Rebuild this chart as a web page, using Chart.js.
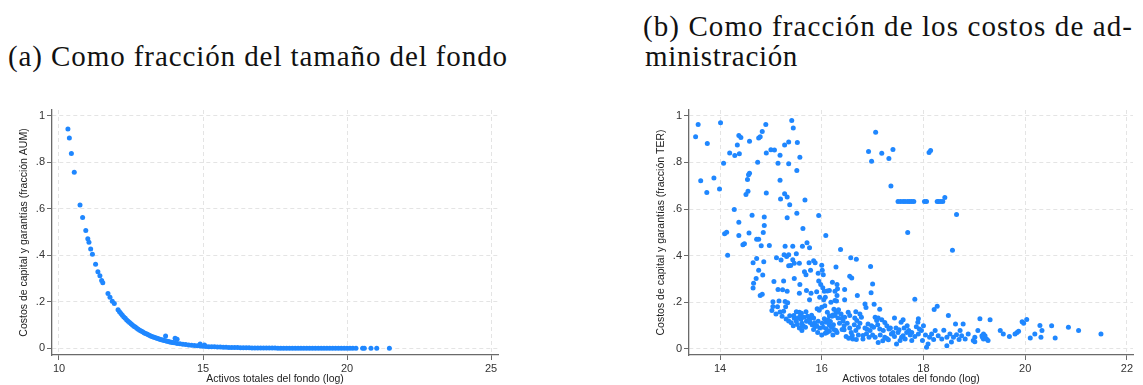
<!DOCTYPE html>
<html lang="es">
<head>
<meta charset="utf-8">
<script src="https://cdn.jsdelivr.net/npm/chart.js@4.4.1/dist/chart.umd.min.js"></script>
<style>
  html, body { margin: 0; padding: 0; background: #fff; }
  body { width: 1143px; height: 385px; position: relative; overflow: hidden; }
  .cap { position: absolute; font-family: "Liberation Serif", "DejaVu Serif", serif; font-size: 29px; color: #111; white-space: nowrap; line-height: 31px; }
  .box { position: absolute; }
</style>
</head>
<body>
<div class="cap" id="capA" style="left:8px; top:41px;">(a) Como fracción del tamaño del fondo</div>
<div class="cap" id="capB1" style="left:643px; top:11px;">(b) Como fracción de los costos de ad-</div>
<div class="cap" id="capB2" style="left:645px; top:41px;">ministración</div>
<div class="box" style="left:0; top:90px;"><canvas id="chartA" width="515" height="295"></canvas></div>
<div class="box" style="left:630px; top:90px;"><canvas id="chartB" width="513" height="295"></canvas></div>

<script>
// (a) costos como fracción de AUM vs log activos
const aumPoints = [
  [10.31,.943],[10.36,.905],[10.43,.838],[10.53,.757],[10.73,.616],[10.82,.562],[10.93,.507],
  [11.00,.471],[11.04,.456],[11.10,.427],[11.16,.404],[11.27,.361],[11.35,.329],[11.42,.312],
  [11.48,.291],[11.52,.282],[11.70,.236],[11.77,.219],[11.85,.202],[11.92,.193],[12.05,.166],
  [12.10,.157],[12.15,.149],[12.20,.142],[12.25,.135],[12.30,.129],[12.35,.122],[12.40,.116],
  [12.45,.111],[12.50,.105],[12.55,.100],[12.60,.095],[12.65,.091],[12.70,.086],[12.75,.082],
  [12.80,.078],[12.85,.074],[12.90,.071],[12.95,.067],[13.00,.064],[13.05,.061],[13.10,.058],
  [13.15,.055],[13.20,.052],[13.25,.050],[13.30,.047],[13.35,.045],[13.40,.043],[13.45,.041],
  [13.50,.039],[13.55,.037],[13.60,.035],[13.65,.033],[13.70,.032],[13.75,.030],[13.80,.029],
  [13.85,.027],[13.90,.026],[13.95,.025],[14.00,.024],[14.10,.021],[14.20,.019],[14.30,.017],
  [14.40,.016],[14.50,.014],[14.60,.013],[14.70,.012],[14.80,.011],[14.90,.010],[15.00,.009],
  [15.10,.008],[15.20,.007],[15.30,.006],[15.40,.006],[15.50,.005],[15.60,.005],[15.70,.004],
  [15.80,.004],[15.90,.003],[16.00,.003],[16.10,.003],[16.20,.003],[16.30,.002],[16.40,.002],
  [16.50,.002],[16.60,.002],[16.70,.001],[16.80,.001],[16.90,.001],[17.00,.001],[17.10,.001],
  [17.20,.001],[17.30,.001],[17.40,.001],[17.50,.001],[17.60,0],[17.70,0],[17.80,0],[17.90,0],
  [18.00,0],[18.10,0],[18.20,0],[18.30,0],[18.40,0],[18.50,0],[18.60,0],[18.70,0],[18.80,0],
  [18.90,0],[19.00,0],[19.10,0],[19.20,0],[19.30,0],[19.40,0],[19.50,0],[19.60,0],[19.70,0],
  [19.80,0],[19.90,0],[20.00,0],[20.10,0],[20.20,0],[20.31,0],
  [13.70,.053],[14.03,.043],[14.10,.039],[14.90,.018],[15.05,.014],
  [20.54,0],[20.60,0],[20.83,0],[21.03,0],[21.47,0]
];

// (b) costos como fracción del TER vs log activos
const terPoints = [
  [13.57,.963],[14.01,.970],[13.52,.910],[13.75,.881],[14.37,.916],[14.41,.907],[14.34,.875],
  [14.58,.891],[14.19,.841],[14.29,.830],[14.38,.837],[14.07,.797],[14.90,.963],[14.83,.933],
  [14.76,.905],[14.79,.910],[14.74,.801],[14.91,.841],[15.00,.855],[15.07,.853],[15.18,.831],
  [15.14,.797],[15.27,.875],[15.35,.888],[15.41,.980],[15.44,.948],[15.52,.886],[15.57,.822],
  [15.35,.794],[15.51,.765],[13.62,.721],[13.88,.733],[13.74,.671],[13.99,.686],[14.58,.754],
  [14.56,.747],[14.54,.727],[14.51,.663],[14.55,.676],[14.91,.669],[15.18,.724],[15.19,.643],
  [15.27,.666],[15.32,.652],[15.37,.619],[15.67,.639],[14.28,.598],[14.63,.573],[14.87,.566],
  [14.37,.543],[14.87,.529],[15.32,.563],[15.51,.582],[15.94,.572],[15.63,.517],[16.08,.487],
  [14.09,.494],[14.13,.501],[14.37,.487],[14.57,.497],[14.85,.499],[14.72,.471],[14.76,.471],
  [14.45,.447],[14.48,.451],[14.81,.443],[14.97,.444],[14.15,.402],[15.28,.441],[15.43,.441],
  [15.62,.441],[15.71,.456],[15.76,.434],[15.50,.408],[15.26,.404],[15.31,.397],[15.35,.404],
  [15.11,.391],[15.20,.381],[14.72,.388],[14.65,.370],[14.86,.374],[15.43,.383],[15.46,.368],
  [15.56,.368],[15.35,.357],[15.39,.358],[15.75,.370],[15.84,.378],[15.87,.370],[16.00,.359],
  [16.28,.352],[15.66,.331],[15.69,.318],[15.78,.338],[16.01,.338],[16.03,.318],[15.93,.325],
  [14.76,.338],[14.84,.317],[14.71,.302],[15.46,.302],[15.06,.289],[15.25,.291],[14.66,.282],
  [14.65,.261],[15.57,.276],[15.94,.291],[15.98,.276],[16.21,.286],[16.30,.276],[15.14,.255],
  [15.23,.254],[15.32,.248],[15.70,.251],[15.79,.239],[15.90,.245],[16.02,.262],[16.05,.248],
  [16.11,.249],[16.15,.251],[14.79,.229],[14.83,.235],[15.56,.239],[16.26,.248],[16.30,.229],
  [15.76,.211],[15.04,.202],[15.16,.206],[15.28,.203],[15.33,.198],[15.96,.222],[16.07,.222],
  [16.04,.211],[16.18,.200],[16.26,.208],[15.04,.182],[15.13,.181],[15.29,.181],[15.25,.162],
  [15.37,.142],[15.45,.143],[15.50,.159],[15.56,.157],[15.60,.153],[15.69,.159],[15.46,.132],
  [15.53,.133],[15.50,.119],[15.59,.127],[15.65,.136],[15.77,.130],[15.84,.133],[15.91,.172],
  [15.95,.166],[16.00,.179],[16.06,.185],[16.11,.157],[16.15,.142],[16.20,.140],[16.22,.146],
  [16.24,.170],[16.28,.160],[16.31,.157],[16.33,.168],[15.93,.119],[16.01,.110],[16.09,.114],
  [16.15,.103],[16.23,.104],[16.19,.093],[16.07,.067],[16.10,.071],[16.15,.076],[16.09,.087],
  [15.84,.083],[15.88,.096],[15.81,.104],[15.77,.113],[15.61,.110],[15.64,.097],[15.70,.119],
  [15.74,.123],[16.24,.083],[15.61,.079],[15.68,.093],[15.92,.070],[16.00,.060],
  [15.02,.165],[15.10,.150],[15.18,.158],[15.22,.140],[15.30,.128],[15.35,.120],[15.40,.112],
  [15.44,.100],[15.52,.105],[15.56,.090],[15.62,.098],[15.58,.142],[15.72,.140],[15.80,.145],
  [15.86,.112],[15.90,.100],[15.96,.090],[16.03,.093],[16.05,.130],[16.12,.125],[16.17,.118],
  [16.22,.060],[16.30,.070],[16.35,.110],[16.42,.120],[16.50,.110],[16.55,.090],[16.58,.070],
  [17.06,.930],[16.92,.847],[17.18,.840],[17.40,.856],[16.98,.805],[17.32,.817],[18.11,.843],
  [18.14,.851],[17.36,.699],[17.50,.633],[17.55,.633],[17.60,.633],[17.64,.633],[17.69,.633],
  [17.73,.633],[17.77,.633],[17.81,.633],[18.02,.633],[18.06,.633],[18.27,.633],[18.30,.633],
  [18.34,.633],[18.38,.633],[18.42,.650],[18.65,.577],[17.69,.500],
  [16.37,.427],[18.57,.423],[16.57,.391],[16.68,.385],[16.96,.354],[16.55,.312],[16.59,.304],
  [17.00,.279],[16.97,.241],[16.31,.258],[16.45,.255],[16.70,.229],[16.29,.206],[16.45,.211],
  [17.83,.213],[16.85,.193],[16.87,.178],[17.03,.192],[17.14,.170],[18.21,.169],[18.27,.183],
  [16.38,.150],[16.52,.157],[16.55,.143],[16.67,.160],[16.75,.150],[16.78,.136],[16.65,.133],
  [16.69,.122],[16.64,.104],[16.72,.093],[16.67,.079],[16.26,.143],[16.32,.133],[16.40,.132],
  [16.45,.136],[16.44,.100],[16.44,.082],[16.40,.083],[16.28,.079],[16.48,.053],[16.53,.046],
  [16.60,.058],[16.61,.043],[16.68,.040],[16.81,.043],[16.81,.058],[16.91,.107],[16.98,.100],
  [16.89,.084],[16.95,.079],[17.02,.093],[17.05,.136],[17.08,.122],[17.11,.133],[17.18,.125],
  [17.10,.104],[17.14,.086],[17.21,.079],[17.28,.100],[17.24,.113],[17.32,.086],[17.37,.064],
  [17.43,.053],[17.50,.071],[17.57,.050],[17.11,.028],[17.24,.050],[17.31,.039],[17.47,.021],
  [17.54,.036],[17.60,.057],[17.67,.071],[17.64,.043],[17.77,.036],[17.83,.053],[17.90,.064],
  [17.96,.079],[17.98,.036],[18.09,.021],[18.06,.007],[18.16,.064],[18.23,.079],[18.29,.057],
  [18.36,.043],[18.46,.050],[18.52,.064],[18.59,.050],[18.65,.061],[18.72,.079],[18.75,.057],
  [18.82,.043],[18.88,.064],[18.98,.036],[19.01,.050],[19.15,.057],[19.18,.043],[19.11,.129],
  [18.78,.107],[18.63,.107],[18.49,.143],[17.90,.129],[17.89,.114],[17.60,.125],[17.56,.114],
  [17.43,.133],[17.52,.082],[17.71,.079],[17.92,.086],[17.77,.071],[18.46,.014],
  [16.72,.060],[16.75,.110],[16.85,.090],[16.88,.065],[16.93,.050],[17.00,.060],[17.05,.050],
  [17.15,.060],[17.20,.035],[17.28,.045],[17.35,.090],[17.40,.070],[17.46,.090],[17.62,.090],
  [17.68,.100],[17.74,.060],[17.86,.095],[18.00,.100],[18.04,.060],[18.12,.050],[18.20,.040],
  [18.40,.080],[18.55,.030],[18.70,.040],
  [19.31,.125],[19.07,.079],[19.01,.031],[19.18,.064],[19.21,.057],[19.16,.050],[19.24,.043],
  [19.27,.036],[19.51,.079],[19.57,.064],[19.69,.053],[19.80,.064],[19.84,.071],[19.87,.076],
  [19.94,.117],[19.97,.110],[20.03,.126],[20.10,.047],[20.19,.064],[20.29,.101],[20.33,.079],
  [20.31,.050],[20.52,.099],[20.59,.047],[20.85,.093],[21.05,.079],[21.49,.064]
];

const yTicks = [0, .2, .4, .6, .8, 1];
const aumXTicks = [10, 15, 20, 25];
const terXTicks = [14, 16, 18, 20, 22];

const xTitle = 'Activos totales del fondo (log)';
const aumYTitle = 'Costos de capital y garantías (fracción AUM)';
const terYTitle = 'Costos de capital y garantías (fracción TER)';

const dotColor = '#1f87ff';
const axisFont = { family: 'Liberation Sans, Arial, sans-serif', size: 11 };
const titleFont = { family: 'Liberation Sans, Arial, sans-serif', size: 10.5 };

function fitWidth(id, w) {
  const el = document.getElementById(id);
  const n = el.textContent.length;
  const nat = el.getBoundingClientRect().width;
  el.style.letterSpacing = ((w - nat) / n) + 'px';
}

function axisOpts(ticksArr, min, max, title, titlePad, size, fmt) {
  return {
    type: 'linear',
    min: min,
    max: max,
    afterBuildTicks: a => { a.ticks = ticksArr.map(v => ({ value: v })); },
    afterFit: s => { if (s.isHorizontal()) s.height = size; else s.width = size; },
    grid: { color: '#e4e4e4', lineWidth: 1, tickLength: 5, tickColor: '#6a6a6a', tickWidth: 1 },
    border: { display: true, color: '#6a6a6a', width: 1.3, dash: [4, 3] },
    ticks: { color: '#333', font: axisFont, padding: 2, maxRotation: 0, autoSkip: false,
             callback: fmt || (v => String(v)) },
    title: { display: true, text: title, color: '#222', font: titleFont, padding: titlePad }
  };
}

const fmtY = v => v === 0 ? '0' : v === 1 ? '1' : String(v).replace('0.', '.');

function makeChart(id, points, xTicks, xMin, xMax, yMin, yTitle, yAxisW, yTitlePad, padRight) {
  new Chart(document.getElementById(id), {
    type: 'scatter',
    data: {
      datasets: [{
        data: points.map(p => ({ x: p[0], y: p[1] })),
        backgroundColor: dotColor,
        borderColor: dotColor,
        borderWidth: 0,
        pointRadius: 2.5,
        pointHoverRadius: 2.5
      }]
    },
    options: {
      responsive: false,
      animation: false,
      layout: { padding: { left: 0, right: padRight, top: 20, bottom: 0 } },
      plugins: { legend: { display: false }, tooltip: { enabled: false } },
      scales: {
        x: axisOpts(xTicks, xMin, xMax, xTitle, { top: 0, bottom: 0 }, 30),
        y: axisOpts(yTicks, yMin, 1.025, yTitle, { top: yTitlePad, bottom: 0 }, yAxisW, fmtY)
      }
    }
  });
}

fitWidth('capA', 500);
fitWidth('capB1', 490);
fitWidth('capB2', 153);

makeChart('chartA', aumPoints, aumXTicks, 9.757, 25.24, -0.029, aumYTitle, 52, 18, 17);
makeChart('chartB', terPoints, terXTicks, 13.39, 22.12, -0.026, terYTitle, 59, 25, 10);
</script>
</body>
</html>
